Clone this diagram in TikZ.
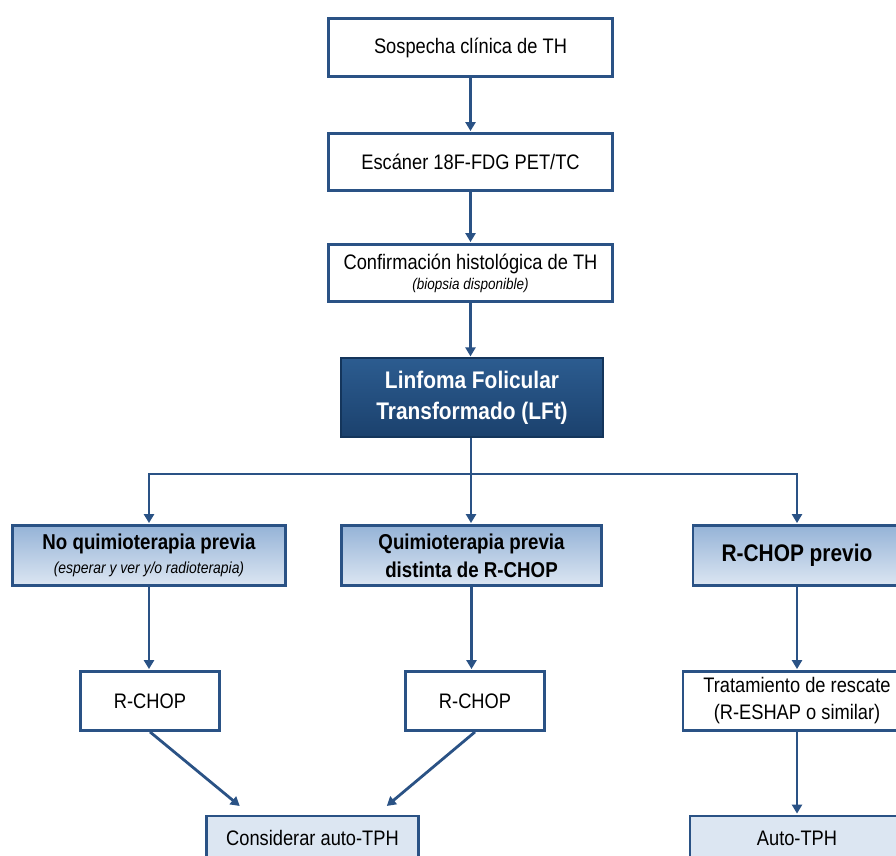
\documentclass[tikz,border=0pt]{standalone}
\usepackage{fontspec}
\setmainfont{Liberation Sans}[FakeStretch=0.87]
\usetikzlibrary{arrows.meta,calc}
\definecolor{lineblue}{HTML}{2A5285}
\definecolor{gtop}{HTML}{95B3D7}
\definecolor{gbot}{HTML}{DCE6F2}
\definecolor{lightfill}{HTML}{DCE6F2}
\definecolor{darktop}{HTML}{2C5C90}
\definecolor{darkbot}{HTML}{1B416D}
\definecolor{darkedge}{HTML}{14355B}
\begin{document}
\begin{tikzpicture}[x=1pt,y=-1pt,
  plainbox/.style={draw=lineblue, line width=2.8pt, fill=white, inner sep=0pt, align=center,
    font=\fontsize{21}{27}\selectfont},
  gradbox/.style={draw=lineblue, line width=2.8pt, top color=gtop, bottom color=gbot, inner sep=0pt, align=center,
    font=\bfseries\fontsize{21.5}{28}\selectfont},
  lightbox/.style={draw=lineblue, line width=2.8pt, fill=lightfill, inner sep=0pt, align=center,
    font=\fontsize{21}{27}\selectfont},
  darkbox/.style={draw=darkedge, line width=1.2pt, top color=darktop, bottom color=darkbot, inner sep=0pt, align=center,
    text=white, font=\bfseries\fontsize{24}{31}\selectfont},
  conn/.style={draw=lineblue, line width=2.8pt, -{Triangle[width=10pt,length=9pt]}, shorten >=1pt},
  plainline/.style={draw=lineblue, line width=2.8pt}
]
\useasboundingbox (0,0) rectangle (896,855);

\node[plainbox, minimum width=284pt, minimum height=58pt] (b1) at (470.5,47.5) {Sospecha clínica de TH};
\node[plainbox, minimum width=284pt, minimum height=57pt] (b2) at (470.5,162) {Escáner 18F-FDG PET/TC};
\node[plainbox, minimum width=284pt, minimum height=57pt] (b3) at (470.5,273)
  {Confirmación histológica de TH\\[-7pt]{\itshape\fontsize{15.5}{18}\selectfont (biopsia disponible)}};
\node[darkbox, minimum width=262pt, minimum height=79pt] (lft) at (472,397.5)
  {Linfoma Folicular\\Transformado (LFt)};

\node[gradbox, minimum width=273pt, minimum height=60pt] (gl) at (149,555.5)
  {No quimioterapia previa\\[-4pt]{\mdseries\itshape\fontsize{16}{19}\selectfont (esperar y ver y/o radioterapia)}};
\node[gradbox, minimum width=260pt, minimum height=60pt] (gm) at (471.5,555.5)
  {Quimioterapia previa\\distinta de R-CHOP};
\node[gradbox, minimum width=208pt, minimum height=60pt, font=\bfseries\fontsize{24}{28}\selectfont] (gr) at (797,555.5)
  {R-CHOP previo};

\node[plainbox, minimum width=139pt, minimum height=59pt] (rl) at (150,701) {R-CHOP};
\node[plainbox, minimum width=139pt, minimum height=59pt] (rm) at (475,701) {R-CHOP};
\node[plainbox, minimum width=228pt, minimum height=59pt] (tr) at (797,701)
  {Tratamiento de rescate\\(R-ESHAP o similar)};

\node[lightbox, minimum width=212pt, minimum height=52pt] (ca) at (312.5,842) {};
\node[font=\fontsize{21}{27}\selectfont, anchor=base] (catext) at (312.5,845) {Considerar auto-TPH};
\node[lightbox, minimum width=214pt, minimum height=52pt] (at) at (797,842) {};
\node[font=\fontsize{21}{27}\selectfont, anchor=base] (attext) at (797,845) {Auto-TPH};

\draw[conn] (b1.south) -- (b2.north);
\draw[conn] (b2.south) -- (b3.north);
\draw[conn] (b3.south) -- (b3.south |- lft.north);

\coordinate (split) at (471,474);
\draw[plainline] (lft.south -| split) -- (split);
\draw[conn] (split) -| (gl.north);
\draw[conn] (split) -- (split |- gm.north);
\draw[conn] (split) -| (gr.north);

\draw[conn] (gl.south) -- (gl.south |- rl.north);
\draw[conn] (gm.south) -- (gm.south |- rm.north);
\draw[conn] (gr.south) -- (gr.south |- tr.north);

\draw[conn] (rl.south) -- ([xshift=-72pt,yshift=8pt]ca.north);
\draw[conn] (rm.south) -- ([xshift=73.5pt,yshift=8pt]ca.north);
\draw[conn] (tr.south) -- (at.north);
\end{tikzpicture}
\end{document}
